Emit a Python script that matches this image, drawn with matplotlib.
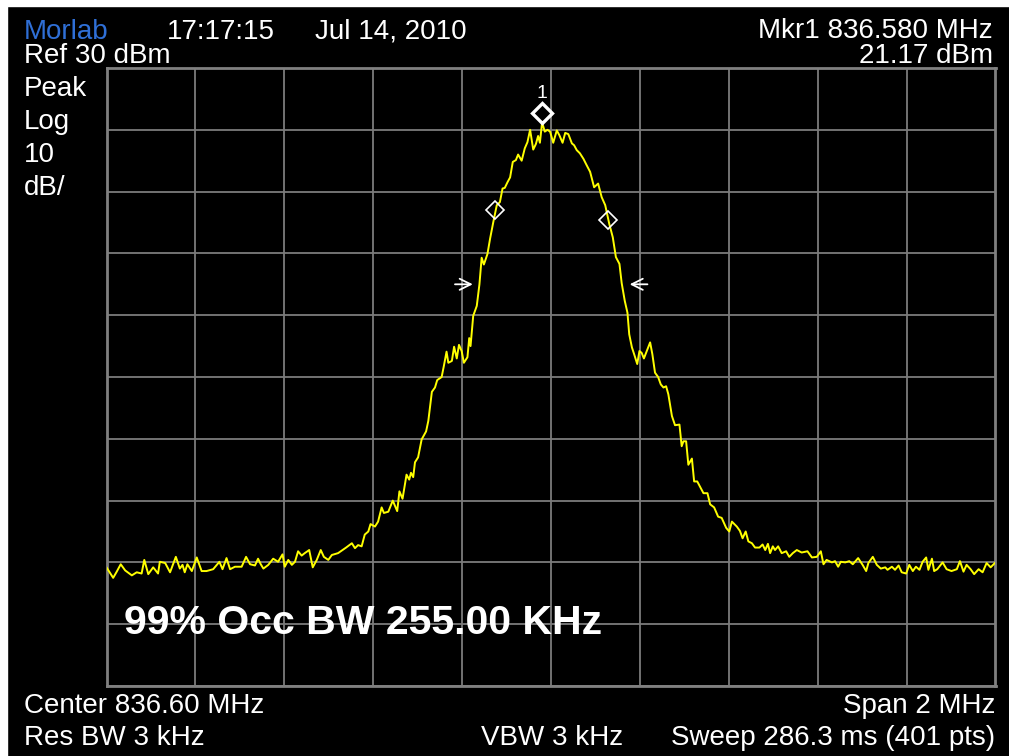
import matplotlib
matplotlib.use("Agg")
import matplotlib.pyplot as plt
from matplotlib.patches import Rectangle
from matplotlib.transforms import offset_copy

plt.rcParams['font.family'] = ['Liberation Sans', 'DejaVu Sans']

# frequency offset from centre (kHz) and trace level (dBm)
freq_off = [
    -1000, -985, -977, -968, -958, -943, -932, -921, -915, -906, -895, -884, -880, -868,
    -857, -844, -835, -829, -824, -818, -808, -797, -786, -775, -760, -746, -739, -730,
    -722, -711, -696, -686, -677, -666, -659, -653, -647, -636, -625, -614, -604, -599,
    -591, -583, -576, -569, -561, -554, -544, -536, -527, -518, -511, -501, -493, -479,
    -461, -448, -441, -434, -426, -419, -411, -406, -396, -389, -381, -376, -366, -356,
    -346, -341, -334, -325, -319, -315, -310, -306, -299, -291, -281, -276, -268, -261,
    -256, -246, -241, -235, -231, -223, -218, -212, -207, -201, -196, -188, -184, -181,
    -175, -167, -161, -156, -151, -143, -137, -130, -122, -115, -109, -104, -98, -92,
    -86, -79, -74, -66, -59, -53, -47, -40, -34, -29, -25, -20, -14, -8,
    -2, 5, 13, 19, 26, 32, 39, 47, 52, 58, 65, 73, 80, 88,
    97, 106, 114, 122, 131, 139, 146, 154, 159, 166, 172, 176, 182, 187,
    194, 199, 204, 209, 217, 223, 228, 234, 241, 247, 253, 259, 264, 272,
    279, 289, 294, 298, 304, 309, 317, 322, 329, 335, 343, 352, 358, 367,
    376, 384, 394, 401, 407, 418, 425, 431, 438, 444, 452, 459, 469, 476,
    482, 488, 493, 499, 504, 511, 519, 529, 536, 544, 553, 564, 577, 587,
    598, 607, 613, 620, 632, 639, 646, 652, 662, 671, 679, 691, 701, 709,
    714, 724, 733, 742, 752, 757, 767, 774, 782, 789, 799, 806, 814, 821,
    829, 836, 844, 849, 857, 862, 869, 881, 890, 901, 913, 920, 928, 935,
    944, 952, 962, 971, 980, 989, 1000,
]
level_dbm = [
    -50.8, -52.5, -51.5, -50.3, -51.3, -52.1, -51.6, -51.8, -49.6, -51.9, -50.8, -51.8, -49.9, -50.1,
    -51.6, -49.1, -51.0, -50.4, -51.6, -50.3, -51.4, -49.2, -51.4, -51.4, -51.1, -49.9, -51.1, -49.3,
    -51.1, -50.7, -50.7, -49.1, -50.3, -50.5, -49.4, -50.3, -51.0, -50.4, -49.4, -49.9, -48.7, -50.7,
    -49.6, -50.4, -49.9, -48.2, -48.9, -48.5, -48.0, -50.8, -49.6, -48.0, -49.1, -49.6, -48.8, -48.5,
    -47.6, -46.9, -47.7, -47.2, -47.4, -45.5, -45.0, -43.8, -44.2, -43.4, -41.1, -42.0, -41.8, -40.0,
    -41.7, -38.5, -39.7, -35.8, -36.6, -35.5, -36.2, -33.8, -33.0, -30.1, -28.8, -27.1, -22.4, -21.7,
    -20.5, -20.0, -18.2, -15.9, -17.7, -17.4, -15.1, -17.0, -14.8, -15.8, -17.7, -16.8, -13.7, -15.0,
    -10.1, -8.5, -5.0, -0.7, -1.8, -0.1, 2.4, 5.0, 7.8, 8.3, 10.5, 10.6, 11.5, 12.3,
    14.8, 15.1, 16.0, 15.0, 17.0, 18.0, 20.0, 16.8, 17.7, 19.0, 17.9, 21.2, 19.7, 20.0,
    19.7, 17.9, 19.9, 19.1, 17.9, 19.5, 19.3, 17.8, 17.5, 16.7, 16.2, 15.3, 14.3, 13.2,
    10.7, 11.3, 9.1, 7.8, 4.8, 2.6, -0.6, -1.7, -4.8, -7.7, -9.6, -13.1, -15.2, -16.3,
    -17.9, -15.8, -16.1, -17.0, -15.5, -14.4, -16.3, -19.3, -20.0, -21.2, -21.7, -21.5, -22.8, -26.3,
    -27.8, -27.7, -31.2, -30.4, -30.4, -34.2, -33.2, -36.9, -36.9, -37.7, -38.8, -38.8, -40.6, -41.1,
    -42.6, -42.8, -44.4, -45.0, -43.4, -44.2, -44.9, -46.1, -45.0, -46.6, -46.9, -47.6, -47.6, -47.1,
    -48.0, -47.0, -48.5, -47.4, -48.0, -47.4, -48.5, -48.2, -49.1, -48.5, -48.0, -48.4, -48.2, -49.2,
    -49.1, -48.2, -50.3, -49.6, -50.0, -49.8, -50.7, -49.9, -50.0, -49.8, -50.3, -49.3, -50.4, -51.4,
    -50.1, -49.1, -50.4, -51.0, -50.8, -51.2, -50.7, -51.2, -50.5, -51.6, -51.8, -50.4, -51.4, -50.7,
    -51.2, -49.9, -49.2, -51.2, -49.4, -51.4, -51.1, -50.0, -51.1, -51.4, -51.1, -49.8, -51.5, -50.4,
    -51.1, -51.9, -51.1, -51.6, -50.1, -50.8, -50.0,
]

ref_level = 30
db_per_div = 10
span_khz = 2000

mkr1_off = -20
mkr1_level = 21.17
obw_off = [-126, 129]
obw_level = [7.1, 5.4]
xdb_off = [-176, 177]
xdb_level = -5.0

W, H = 1009, 756
fig = plt.figure(figsize=(W / 100, H / 100), dpi=100, facecolor='black')
fig.patches.append(Rectangle((0, 0), 7 / W, 1, transform=fig.transFigure,
                             color='white', zorder=-1))
fig.patches.append(Rectangle((0, 1 - 6 / H), 1, 6 / H, transform=fig.transFigure,
                             color='white', zorder=-1))

ax = fig.add_axes([106.5 / W, (H - 686) / H, 889 / W, 618 / H])
ax.set_facecolor('black')
ax.set_xlim(-span_khz / 2, span_khz / 2)
ax.set_ylim(ref_level - 10 * db_per_div, ref_level)
ax.set_xticks(range(-1000, 1001, 200))
ax.set_yticks(range(ref_level - 10 * db_per_div, ref_level + 1, db_per_div))
ax.tick_params(length=0, labelbottom=False, labelleft=False)
ax.grid(True, color='#7c7c7c', lw=1.3)
for s in ax.spines.values():
    s.set_color('#808080')
    s.set_linewidth(2)

ax.plot(freq_off, level_dbm, color='#ffff00', lw=1.4, zorder=3)

# marker 1 sits just above the trace
up = offset_copy(ax.transData, fig=fig, y=10, units='dots')
ax.plot(mkr1_off, mkr1_level, marker='D', ms=10, mfc='black', mec='white',
        mew=2.4, transform=up, zorder=5, clip_on=False)
ax.annotate('1', xy=(mkr1_off, mkr1_level), xytext=(0, 25),
            textcoords='offset pixels', ha='center', va='baseline',
            color='white', fontsize=14)

ax.plot(obw_off, obw_level, 'D', ms=9, mfc='none', mec='white', mew=1.2, zorder=5)

for tip, tail in [(xdb_off[0], xdb_off[0] - 40), (xdb_off[1], xdb_off[1] + 40)]:
    ax.annotate('', xy=(tip, xdb_level), xytext=(tail, xdb_level),
                arrowprops=dict(arrowstyle='->', color='white', lw=1.3,
                                mutation_scale=20, shrinkA=0, shrinkB=0))


def label(x, y, s, ha='left', **kw):
    fig.text(x / W, 1 - y / H, s, ha=ha, va='baseline', color=kw.pop('color', 'white'),
             fontsize=kw.pop('fontsize', 20), **kw)


label(24, 39, 'Morlab', color='#2f6fd6')
label(167, 39, '17:17:15')
label(315, 39, 'Jul 14, 2010')
label(24, 63, 'Ref 30 dBm')
label(993, 38, 'Mkr1 836.580 MHz', ha='right')
label(993, 63, '21.17 dBm', ha='right')
label(24, 96, 'Peak')
label(24, 129, 'Log')
label(24, 162, '10')
label(24, 195, 'dB/')
label(24, 713, 'Center 836.60 MHz')
label(995, 713, 'Span 2 MHz', ha='right')
label(24, 745, 'Res BW 3 kHz')
label(481, 745, 'VBW 3 kHz')
label(995, 745, 'Sweep 286.3 ms (401 pts)', ha='right')
label(124, 634, '99% Occ BW 255.00 KHz', fontsize=29.5, fontweight='bold')

fig.savefig('out.png', dpi=100, facecolor='black')
